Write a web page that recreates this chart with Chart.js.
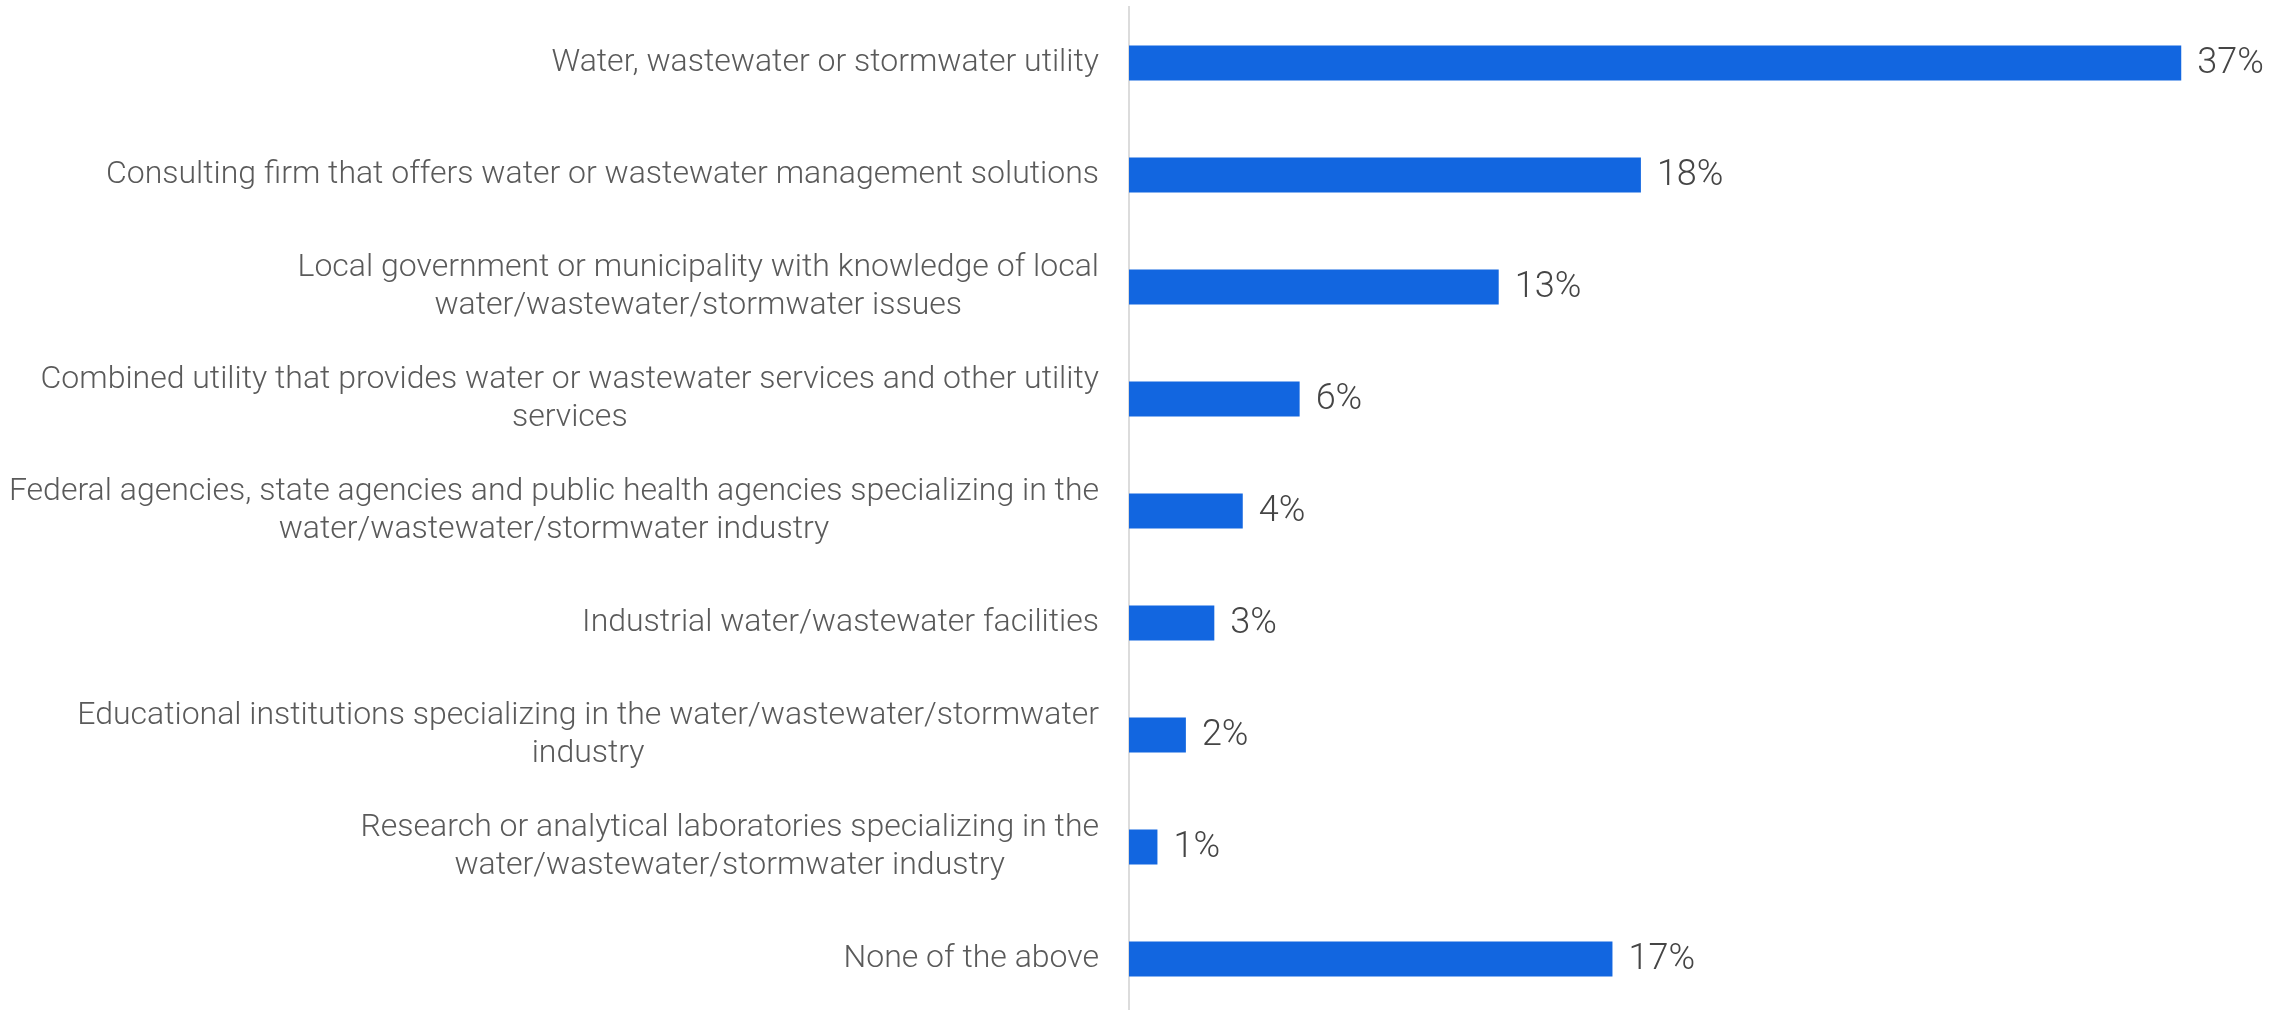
<!DOCTYPE html>
<html>
<head>
<meta charset="utf-8">
<script src="https://cdn.jsdelivr.net/npm/chart.js@4.4.1/dist/chart.umd.min.js"></script>
<style>
  html, body { margin: 0; padding: 0; background: #ffffff; overflow: hidden; }
  #contenedor { width: 2295px; height: 1015px; }
</style>
</head>
<body>
<div id="contenedor"><canvas id="myChart"></canvas></div>
<script>
// categorias (cada una en sus lineas, como en la imagen)
const categorias = [
  ["Water, wastewater or stormwater utility"],
  ["Consulting firm that offers water or wastewater management solutions"],
  ["Local government or municipality with knowledge of local", "water/wastewater/stormwater issues"],
  ["Combined utility that provides water or wastewater services and other utility", "services"],
  ["Federal agencies, state agencies and public health agencies specializing in the", "water/wastewater/stormwater industry"],
  ["Industrial water/wastewater facilities"],
  ["Educational institutions specializing in the water/wastewater/stormwater", "industry"],
  ["Research or analytical laboratories specializing in the", "water/wastewater/stormwater industry"],
  ["None of the above"],
];
// porcentajes de cada barra
const valores = [37, 18, 13, 6, 4, 3, 2, 1, 17];

const colorBarra = "#1266e0";
const colorEtiqueta = "#5a5a5a";
const colorValor = "#454545";
const fuenteEtiqueta = "300 32px Roboto";
const fuenteValor = "300 36px Roboto";
const altoLinea = 38;

// plugin que dibuja las etiquetas del eje y (lineas centradas entre si, bloque alineado a la derecha)
const etiquetasPlugin = {
  id: "etiquetas",
  afterDraw(chart) {
    const ctx = chart.ctx;
    const escalaY = chart.scales.y;
    ctx.save();
    ctx.font = fuenteEtiqueta;
    ctx.fillStyle = colorEtiqueta;
    ctx.textAlign = "center";
    ctx.textBaseline = "middle";
    chart.data.labels.forEach((lineas, i) => {
      const y = escalaY.getPixelForValue(i);
      const ancho = Math.max(...lineas.map((l) => ctx.measureText(l).width));
      const centroX = escalaY.right - 30 - ancho / 2;
      lineas.forEach((linea, j) => {
        ctx.fillText(linea, centroX, y + (j - (lineas.length - 1) / 2) * altoLinea);
      });
    });
    // valores al final de cada barra
    const meta = chart.getDatasetMeta(0);
    ctx.font = fuenteValor;
    ctx.fillStyle = colorValor;
    ctx.textAlign = "left";
    meta.data.forEach((barra, i) => {
      ctx.fillText(chart.data.datasets[0].data[i] + "%", barra.x + 16, barra.y + 1);
    });
    ctx.restore();
  },
};

const config = {
  type: "bar",
  data: {
    labels: categorias,
    datasets: [
      {
        data: valores,
        backgroundColor: colorBarra,
        barPercentage: 0.3125,
        categoryPercentage: 1,
      },
    ],
  },
  options: {
    indexAxis: "y",
    responsive: true,
    maintainAspectRatio: false,
    animation: false,
    layout: { padding: { top: 7, right: 0, bottom: 0, left: 0 } },
    plugins: {
      legend: { display: false },
      tooltip: { enabled: false },
    },
    scales: {
      x: {
        display: false,
        min: 0,
        max: 41,
      },
      y: {
        grid: { display: false, drawTicks: false },
        border: { display: true, color: "#dcdcdc", width: 2 },
        ticks: { display: false },
        afterFit(escala) {
          escala.width = 1129;
        },
      },
    },
  },
  plugins: [etiquetasPlugin],
};

const chart = new Chart(document.getElementById("myChart"), config);
</script>
</body>
</html>
